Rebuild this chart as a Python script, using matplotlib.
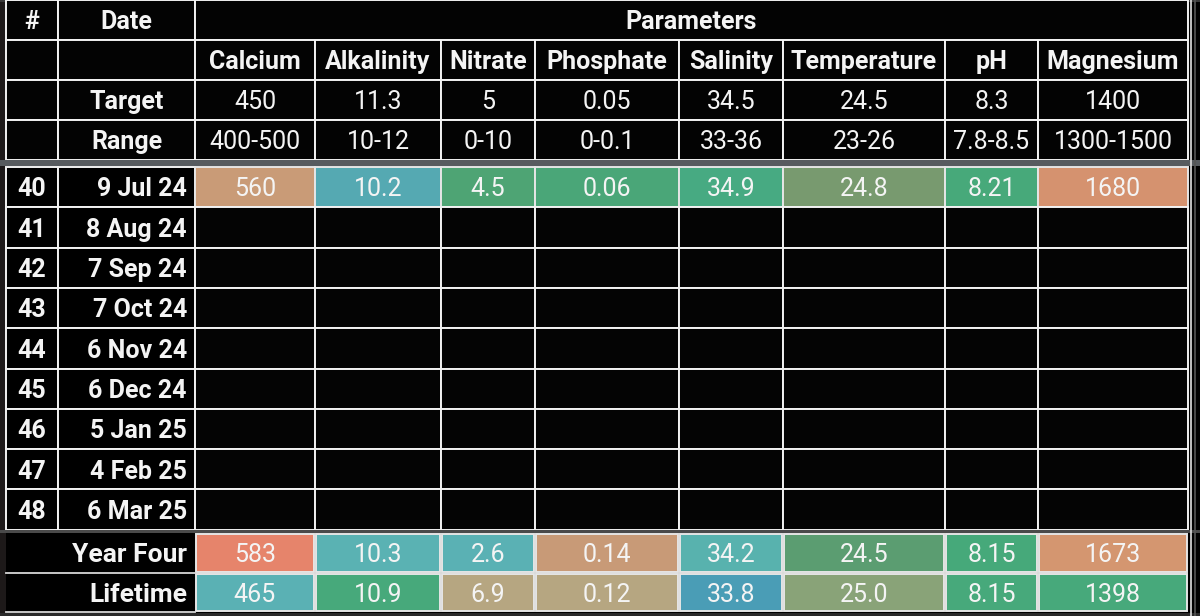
import matplotlib.pyplot as plt
from matplotlib.patches import Rectangle

plt.rcParams['font.family'] = ['Roboto', 'DejaVu Sans']

# table content
params = ['Calcium', 'Alkalinity', 'Nitrate', 'Phosphate', 'Salinity',
          'Temperature', 'pH', 'Magnesium']
targets = ['450', '11.3', '5', '0.05', '34.5', '24.5', '8.3', '1400']
ranges = ['400-500', '10-12', '0-10', '0-0.1', '33-36', '23-26',
          '7.8-8.5', '1300-1500']
row_nums = ['40', '41', '42', '43', '44', '45', '46', '47', '48']
dates = ['9 Jul 24', '8 Aug 24', '7 Sep 24', '7 Oct 24', '6 Nov 24',
         '6 Dec 24', '5 Jan 25', '4 Feb 25', '6 Mar 25']
row40 = ['560', '10.2', '4.5', '0.06', '34.9', '24.8', '8.21', '1680']
year_four = ['583', '10.3', '2.6', '0.14', '34.2', '24.5', '8.15', '1673']
lifetime = ['465', '10.9', '6.9', '0.12', '33.8', '25.0', '8.15', '1398']

# cell shading
row40_colors = ['#c99b77', '#55a9b2', '#4ea474', '#4aa678', '#47aa82',
                '#789a6f', '#47a97a', '#d5926f']
year_four_colors = ['#e6846b', '#5ab2b3', '#5ab1b4', '#c89a77', '#58b2ae',
                    '#5b9d71', '#46a97a', '#d49670']
lifetime_colors = ['#5ab1b4', '#47a97b', '#b6a681', '#b6a681', '#4a9db6',
                   '#89a378', '#47a97b', '#47a97b']

# layout (pixels)
col_edges = [6, 58, 195, 315, 441, 535, 679, 783, 945, 1038, 1188]
head_edges = [0, 40, 80, 120, 160]
data_top, data_h = 167, 40.3
sum_edges = [533, 572.5, 612]

FS = 18
LINE = '#f2f2f2'
DY = 2.3

fig = plt.figure(figsize=(12, 6.16), dpi=100, facecolor='#000000')
ax = fig.add_axes([0, 0, 1, 1])
ax.set_xlim(0, 1200)
ax.set_ylim(616, 0)
ax.axis('off')


def cell(x0, x1, y0, y1, text='', fc='#030303', ec=LINE, bold=False,
         ha='center', lw=1.4):
    ax.add_patch(Rectangle((x0, y0), x1 - x0, y1 - y0, facecolor=fc,
                           edgecolor=ec, linewidth=lw))
    if text:
        if ha == 'center':
            tx = (x0 + x1) / 2
        else:
            tx = x1 - 8
        ax.text(tx, (y0 + y1) / 2 + DY, text, ha=ha, va='center',
                fontsize=FS, color='#f4f4f4',
                fontweight='bold' if bold else 'normal')


# left stripe
ax.add_patch(Rectangle((0, 0), 6, 616, facecolor='#1d1919', edgecolor='none'))
ax.add_patch(Rectangle((0, 0), 1200, 1.5, facecolor='#3a3a3a', edgecolor='none'))

# header rows
c = col_edges
cell(c[0], c[1], head_edges[0], head_edges[1], '#', bold=True)
cell(c[1], c[2], head_edges[0], head_edges[1], 'Date', bold=True)
cell(c[2], c[-1], head_edges[0], head_edges[1], 'Parameters', bold=True)

first_cols = ['', 'Target', 'Range']
row_texts = [params, targets, ranges]
for r in range(3):
    y0, y1 = head_edges[r + 1], head_edges[r + 2]
    cell(c[0], c[1], y0, y1)
    cell(c[1], c[2], y0, y1, first_cols[r], bold=True)
    for i, txt in enumerate(row_texts[r]):
        cell(c[i + 2], c[i + 3], y0, y1, txt, bold=(r == 0))

# separator band
ax.add_patch(Rectangle((0, 160), 1200, 6, facecolor='#575b5f', edgecolor='none'))

# data rows
for k, (num, d) in enumerate(zip(row_nums, dates)):
    y0 = data_top + k * data_h
    y1 = y0 + data_h
    cell(c[0], c[1], y0, y1, num, fc='#000000', bold=True)
    cell(c[1], c[2], y0, y1, d, fc='#000000', bold=True, ha='right')
    for i in range(len(params)):
        if k == 0:
            cell(c[i + 2], c[i + 3], y0, y1, row40[i], fc=row40_colors[i],
                 ec='#e6e6e6')
        else:
            cell(c[i + 2], c[i + 3], y0, y1, fc='#040404')

ax.add_patch(Rectangle((0, 530), 1200, 2.5, facecolor='#4a4a4a', edgecolor='none'))

# summary rows
summaries = [('Year Four', year_four, year_four_colors),
             ('Lifetime', lifetime, lifetime_colors)]
for r, (label, vals, cols) in enumerate(summaries):
    y0, y1 = sum_edges[r], sum_edges[r + 1]
    ax.add_patch(Rectangle((c[0], y0), c[2] - c[0], y1 - y0,
                           facecolor='#000000', edgecolor='none'))
    ax.text(c[2] - 8, (y0 + y1) / 2 + DY, label, ha='right', va='center',
            fontsize=FS + 1, color='#f4f4f4', fontweight='bold')
    ax.plot([c[0], c[2]], [y1, y1], color='#d8d8d8', lw=1.3)
    for i, v in enumerate(vals):
        cell(c[i + 2] + 1, c[i + 3] - 1, y0 + 1, y1 - 1, v, fc=cols[i],
             ec='#e6e6e6')

ax.add_patch(Rectangle((0, 613), 1200, 3, facecolor='#2a2a2a', edgecolor='none'))

# right edge lines
ax.plot([1191, 1191], [0, 616], color='#e0e0e0', lw=1.2)
ax.plot([1195, 1195], [0, 616], color='#555555', lw=1.2)

fig.savefig('out.png', dpi=100, facecolor=fig.get_facecolor())
